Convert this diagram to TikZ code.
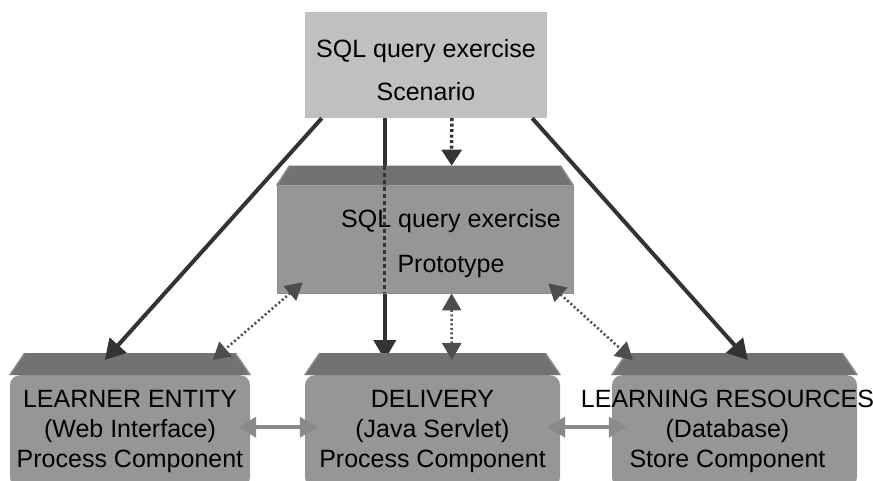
\documentclass[tikz,border=0pt]{standalone}
\usepackage{fontspec}
\setmainfont{Liberation Sans}
\usetikzlibrary{arrows.meta,calc}

\definecolor{scfill}{HTML}{C0C0C0}
\definecolor{boxfill}{HTML}{969696}
\definecolor{topfill}{HTML}{727272}
\definecolor{edgegray}{HTML}{8C8C8C}
\definecolor{arrowdark}{HTML}{333333}
\definecolor{dotgray}{HTML}{4D4D4D}
\definecolor{syncgray}{HTML}{8A8A8A}

\pgfdeclarelayer{background}
\pgfsetlayers{background,main}

% slanted top face of a box node
\newcommand{\topface}[3]{%
  \fill[topfill] (#1.north west) -- ++(#2,#3) -- ($(#1.north east)+(-#2,#3)$) -- (#1.north east) -- cycle;
  \draw[edgegray, line width=1.5pt] (#1.north west) -- ++(#2,#3);
  \draw[edgegray, line width=1.5pt] (#1.north east) -- ++(-#2,#3);}

\tikzset{
  boxtext/.style={font=\fontsize{25}{30}\selectfont, align=center, inner sep=0pt},
  scbox/.style={fill=scfill, inner sep=0pt},
  protobox/.style={fill=boxfill, draw=edgegray, line width=0.8pt, inner sep=0pt},
  compbox/.style={fill=boxfill, rounded corners=10pt, inner sep=0pt,
    minimum height=112pt, anchor=north},
  flow/.style={draw=arrowdark, line width=4pt, -{Triangle[length=20pt,width=22pt]}},
  feed/.style={draw=arrowdark, line width=3.5pt, dash pattern=on 3pt off 2.5pt,
    -{Triangle[length=16pt,width=20pt]}},
  link/.style={draw=dotgray, line width=2.5pt, dash pattern=on 2pt off 2.5pt,
    {Triangle[length=17pt,width=19pt]}-{Triangle[length=17pt,width=19pt]}},
  sync/.style={draw=syncgray, line width=4pt,
    {Triangle[length=18pt,width=20pt]}-{Triangle[length=18pt,width=20pt]}}
}

\begin{document}
\begin{tikzpicture}[x=1pt, y=1pt]
  \useasboundingbox (0,0) rectangle (873,480);

  % boxes
  \node[scbox, minimum width=242pt, minimum height=106pt] (sc) at (426,415)
    {\phantom{x}};
  \node[boxtext, font=\fontsize{25}{43}\selectfont, yshift=-5pt] at (sc.center)
    {SQL query exercise\\Scenario};

  \node[protobox, minimum width=296pt, minimum height=107pt] (pr) at (425,240.5) {};
  \topface{pr}{13}{20}

  \node[compbox, minimum width=240pt] (le) at (130,105) {};
  \node[compbox, minimum width=255pt] (de) at (432.5,105) {};
  \node[compbox, minimum width=245pt] (lr) at (734.5,105) {};
  \topface{le}{15}{22}
  \topface{de}{15}{22}
  \topface{lr}{15}{22}

  % labels
  \node[boxtext, font=\fontsize{25}{45}\selectfont, xshift=26pt, yshift=-4pt] (prtext)
    at (pr.center) {SQL query exercise\\Prototype};
  \node[boxtext] (letext) at (le.center) {LEARNER ENTITY\\(Web Interface)\\Process Component};
  \node[boxtext] (detext) at (de.center) {DELIVERY\\(Java Servlet)\\Process Component};
  \node[boxtext, xshift=-7pt] (lrtext) at (lr.center) {LEARNING RESOURCES\\(Database)\\Store Component};

  % scenario to components
  \draw[flow] ([xshift=17pt]sc.south west) -- ([xshift=95pt,yshift=15pt]le.north west);
  \begin{pgfonlayer}{background}
    \draw[flow] ([xshift=80pt]sc.south west) -- ([xshift=80pt,yshift=15pt]de.north west);
  \end{pgfonlayer}
  \draw[arrowdark, line width=3.5pt, dash pattern=on 4pt off 3pt]
    ([xshift=108pt,yshift=20pt]pr.north west) -- ([xshift=108pt]pr.south west);
  \draw[flow] ([xshift=-15pt]sc.south east) -- ([xshift=136pt,yshift=15pt]lr.north west);
  \draw[feed] ([xshift=147pt]sc.south west) -- ([xshift=175pt,yshift=20pt]pr.north west);

  % prototype to components
  \draw[link] ([xshift=26pt,yshift=11pt]pr.south west) -- ([xshift=203pt,yshift=15pt]le.north west);
  \draw[link] ([xshift=175pt]pr.south west) -- ([xshift=147pt,yshift=15pt]de.north west);
  \draw[link] ([xshift=-25pt,yshift=10pt]pr.south east) -- ([xshift=21pt,yshift=15pt]lr.north west);

  % component to component
  \draw[sync] ([xshift=-12pt,yshift=4pt]le.east) -- ([xshift=13pt,yshift=4pt]de.west);
  \draw[sync] ([xshift=-13pt,yshift=4pt]de.east) -- ([xshift=15pt,yshift=4pt]lr.west);
\end{tikzpicture}
\end{document}
